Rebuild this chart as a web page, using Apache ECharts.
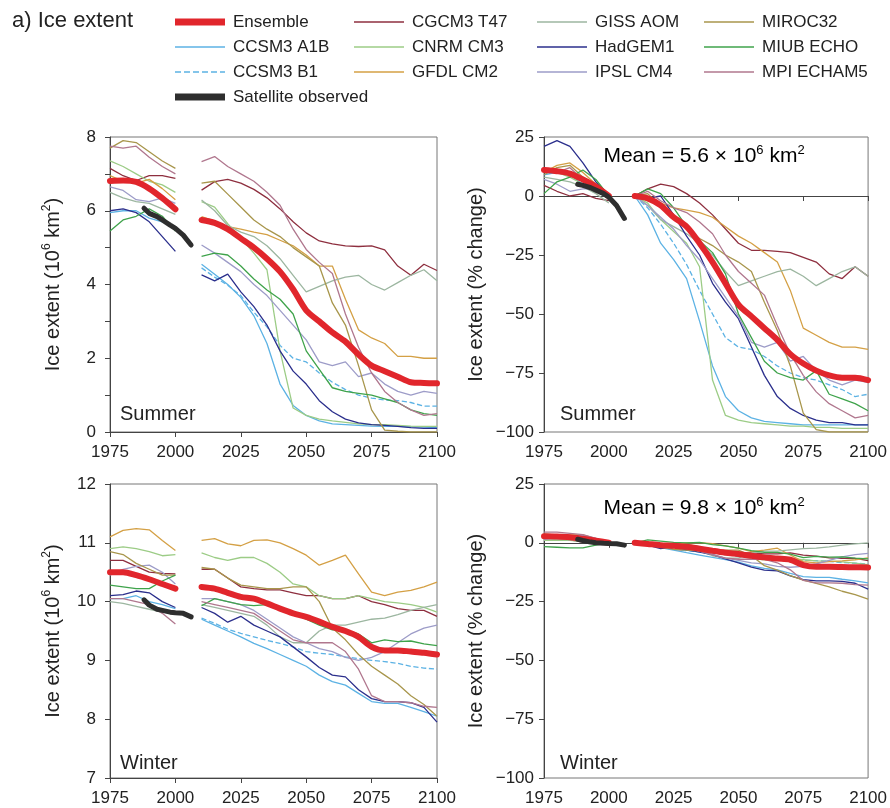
<!DOCTYPE html>
<html>
<head>
<meta charset="utf-8">
<script src="https://cdn.jsdelivr.net/npm/echarts@6/dist/echarts.min.js"></script>
<style>
  html, body { margin: 0; padding: 0; background: #fff; }
  #chart { width: 890px; height: 808px; }
</style>
</head>
<body>
<div id="chart"></div>
<script>
// x positions: 1975-2000 historical runs, gap, 2010-2100 scenario runs
const YEARS = [1975, 1980, 1985, 1990, 1995, 2000, 2005, 2010, 2015, 2020, 2025, 2030, 2035, 2040, 2045,
  2050, 2055, 2060, 2065, 2070, 2075, 2080, 2085, 2090, 2095, 2100];
const SAT_YEARS = [1988, 1990, 1993, 1995, 1998, 2000, 2003, 2006];
const _ = null;

// Summer, 10^6 km2
const sumKmEnsemble = [6.81, 6.82, 6.78, 6.6, 6.34, 6.04, _, 5.75, 5.67, 5.5, 5.25, 5.0, 4.7, 4.35, 3.87, 3.3, 3.0, 2.7, 2.45, 2.1, 1.8, 1.65, 1.5, 1.35, 1.33, 1.32];
const sumKmSat = [6.07, 5.93, 5.84, 5.75, 5.61, 5.52, 5.34, 5.07];
const sumKmCGCM3 = [7.15, 6.95, 6.82, 6.95, 6.95, 6.88, _, 6.56, 6.79, 6.85, 6.75, 6.58, 6.35, 6.05, 5.7, 5.4, 5.18, 5.1, 5.05, 5.03, 5.05, 4.94, 4.5, 4.25, 4.55, 4.38];
const sumKmA1B = [5.95, 6.0, 6.0, 5.8, 5.7, 5.55, _, 4.55, 4.28, 4.0, 3.65, 3.15, 2.4, 1.3, 0.72, 0.45, 0.3, 0.22, 0.2, 0.18, 0.16, 0.15, 0.15, 0.14, 0.13, 0.12];
const sumKmB1 = [_, _, _, _, _, _, _, 4.45, 4.2, 3.98, 3.7, 3.25, 2.85, 2.35, 2.0, 1.9, 1.6, 1.35, 1.15, 1.0, 0.92, 0.87, 0.85, 0.8, 0.7, 0.7];
const sumKmCNRM = [7.35, 7.2, 7.0, 6.8, 6.7, 6.5, _, 6.25, 6.1, 5.65, 5.25, 4.85, 4.4, 2.2, 0.65, 0.45, 0.35, 0.3, 0.26, 0.22, 0.2, 0.2, 0.18, 0.16, 0.15, 0.15];
const sumKmGFDL = [6.95, 6.8, 6.75, 6.85, 6.6, 6.3, _, 5.84, 5.72, 5.57, 5.5, 5.42, 5.35, 5.2, 5.05, 4.8, 4.5, 4.5, 3.6, 2.77, 2.55, 2.4, 2.05, 2.05, 2.0, 2.0];
const sumKmGISS = [6.5, 6.35, 6.25, 6.2, 6.05, 5.9, _, 6.29, 6.0, 5.6, 5.42, 5.3, 5.05, 4.7, 4.25, 3.8, 3.95, 4.1, 4.2, 4.25, 4.0, 3.85, 4.05, 4.25, 4.4, 4.1];
const sumKmHadGEM1 = [6.0, 6.05, 5.95, 5.7, 5.3, 4.9, _, 4.26, 4.1, 4.28, 3.8, 3.4, 2.9, 2.2, 1.65, 1.3, 0.85, 0.55, 0.35, 0.25, 0.2, 0.18, 0.15, 0.12, 0.1, 0.1];
const sumKmIPSL = [6.65, 6.55, 6.3, 6.25, 6.35, 6.2, _, 5.07, 4.85, 4.6, 4.35, 4.0, 3.7, 3.3, 2.9, 2.5, 1.9, 1.8, 1.9, 1.5, 1.6, 1.3, 1.1, 1.0, 1.1, 1.05];
const sumKmMIROC = [7.7, 7.9, 7.85, 7.6, 7.35, 7.15, _, 6.75, 6.8, 6.45, 6.1, 5.75, 5.5, 5.3, 5.0, 4.75, 4.5, 3.5, 2.9, 1.8, 0.6, 0.05, 0.02, 0.0, 0.0, 0.0];
const sumKmMIUB = [5.45, 5.75, 5.85, 6.05, 5.85, 5.45, _, 4.76, 4.85, 4.8, 4.5, 4.15, 3.85, 3.6, 3.2, 2.2, 1.7, 1.2, 1.1, 1.05, 1.0, 0.9, 0.8, 0.6, 0.5, 0.45];
const sumKmMPI = [7.75, 7.7, 7.75, 7.45, 7.2, 7.0, _, 7.33, 7.47, 7.2, 7.0, 6.8, 6.5, 6.15, 5.5, 4.95, 4.6, 4.3, 3.2, 2.3, 1.6, 1.1, 0.8, 0.6, 0.45, 0.5];

// Summer, % change
const sumPctEnsemble = [11, 10.5, 9.5, 7, 4, 0, _, 0, -1, -4, -9, -13, -20, -28, -37, -46, -51, -56, -61, -67, -71, -74, -76, -77, -77, -78];
const sumPctSat = [5, 4.5, 3.5, 2.5, 1, -0.5, -4, -9.5];
const sumPctCGCM3 = [4.5, 2, 0, 1, -1, -2, _, 0, 3, 5, 4, 1, -3, -8, -14, -20, -23, -23, -23.5, -24, -26, -28, -33, -35, -30, -34];
const sumPctA1B = [9, 10, 9, 5, 2, -1, _, 0, -8, -20, -27, -35, -53, -72, -85, -91, -94, -95.5, -96, -96.5, -97, -97, -97, -97, -97, -97];
const sumPctB1 = [_, _, _, _, _, _, _, 0, -5, -12, -20, -29, -40, -50, -60, -64, -65, -68, -72, -75, -77, -78, -80, -82, -85, -84];
const sumPctCNRM = [12, 10, 8, 5, 3, 0, _, 0, -3, -10, -15, -20, -30, -78, -93, -95, -96, -96.5, -97, -97.5, -97.5, -98, -98, -98.5, -98.5, -98.5];
const sumPctGFDL = [10, 13, 14, 10, 5, 0, _, 0, -2, -3, -5, -6, -7, -9, -13, -17, -20, -24, -28, -40, -56, -59, -62, -64, -64, -65];
const sumPctGISS = [8, 7, 6, 4, 1, -3, _, 0, -4, -10, -13, -16, -20, -25, -32, -38, -36, -34, -32, -31, -34, -38, -35, -32, -30, -34];
const sumPctHadGEM1 = [21, 23.5, 21, 14, 6, 0, _, 0, -1, 0, -8, -17, -25, -37, -45, -52, -64, -76, -85, -90, -93, -95, -96, -96, -97, -97];
const sumPctIPSL = [7, 5, 2, 3, 3, 0, _, 0, -4, -9, -14, -21, -27, -35, -43, -51, -62, -64, -62, -70, -68, -74, -78, -80, -78, -79];
const sumPctMIROC = [9, 12, 13, 8, 4, 0, _, 0, 1, -4, -9, -14, -18, -21, -25, -28, -32, -45, -57, -72, -92, -99, -100, -100, -100, -100];
const sumPctMIUB = [1, 6, 8, 11, 7, 0, _, 0, 3, 1, -5, -13, -19, -24, -33, -50, -60, -70, -75, -77, -78, -74, -84, -86, -88, -91];
const sumPctMPI = [11, 10, 12, 7, 3, -1, _, 0, 2, -2, -5, -7, -11, -16, -25, -32, -37, -42, -55, -67, -76, -83, -88, -91, -94, -93];

// Winter, 10^6 km2
const winKmEnsemble = [10.5, 10.5, 10.45, 10.38, 10.3, 10.22, _, 10.25, 10.22, 10.15, 10.08, 10.05, 9.97, 9.88, 9.8, 9.74, 9.66, 9.57, 9.5, 9.4, 9.23, 9.17, 9.17, 9.15, 9.13, 9.1];
const winKmSat = [10.03, 9.94, 9.87, 9.85, 9.82, 9.81, 9.8, 9.74];
const winKmCGCM3 = [10.7, 10.7, 10.6, 10.5, 10.48, 10.47, _, 10.55, 10.55, 10.4, 10.25, 10.22, 10.2, 10.2, 10.15, 10.1, 10.1, 10.05, 10.05, 10.1, 10.0, 9.95, 9.88, 9.85, 9.85, 9.75];
const winKmA1B = [10.05, 10.05, 10.1, 10.0, 9.95, 9.88, _, 9.7, 9.6, 9.5, 9.4, 9.29, 9.2, 9.1, 9.0, 8.9, 8.75, 8.64, 8.58, 8.44, 8.3, 8.27, 8.27, 8.2, 8.13, 8.05];
const winKmB1 = [_, _, _, _, _, _, _, 9.72, 9.63, 9.53, 9.46, 9.4, 9.34, 9.29, 9.23, 9.15, 9.12, 9.1, 9.06, 9.03, 9.0, 8.98, 8.95, 8.9, 8.87, 8.85];
const winKmCNRM = [10.9, 10.93, 10.9, 10.85, 10.78, 10.8, _, 10.83, 10.75, 10.7, 10.75, 10.75, 10.65, 10.5, 10.3, 10.25, 10.1, 10.05, 10.05, 10.1, 10.05, 10.0, 9.98, 9.95, 9.9, 9.82];
const winKmGFDL = [11.1, 11.21, 11.24, 11.22, 11.04, 10.87, _, 11.04, 11.07, 10.98, 10.95, 11.04, 11.05, 11.0, 10.9, 10.79, 10.62, 10.7, 10.79, 10.47, 10.16, 10.1, 10.16, 10.19, 10.25, 10.33];
const winKmGISS = [10.0, 9.97, 9.92, 9.87, 9.82, 9.8, _, 9.95, 9.9, 9.85, 9.8, 9.75, 9.6, 9.4, 9.3, 9.3, 9.5, 9.6, 9.6, 9.65, 9.7, 9.72, 9.78, 9.85, 9.9, 9.95];
const winKmHadGEM1 = [10.1, 10.12, 10.18, 10.15, 10.0, 9.9, _, 9.9, 9.8, 9.65, 9.75, 9.6, 9.5, 9.4, 9.23, 9.06, 8.88, 8.75, 8.72, 8.5, 8.35, 8.3, 8.3, 8.28, 8.2, 7.95];
const winKmIPSL = [10.45, 10.55, 10.6, 10.62, 10.5, 10.3, _, 10.05, 10.05, 10.0, 9.95, 9.85, 9.7, 9.55, 9.4, 9.3, 9.2, 9.15, 9.05, 9.0, 9.05, 9.15, 9.3, 9.45, 9.55, 9.6];
const winKmMIROC = [10.85, 10.8, 10.65, 10.55, 10.45, 10.45, _, 10.58, 10.55, 10.4, 10.28, 10.25, 10.22, 10.22, 10.25, 10.25, 10.0, 9.55, 9.35, 9.1, 8.9, 8.75, 8.6, 8.4, 8.25, 8.05];
const winKmMIUB = [10.28, 10.25, 10.22, 10.22, 10.35, 10.45, _, 9.93, 10.05, 10.0, 9.95, 9.93, 9.95, 9.85, 9.8, 9.7, 9.6, 9.52, 9.52, 9.45, 9.3, 9.35, 9.32, 9.33, 9.28, 9.25];
const winKmMPI = [10.05, 10.05, 10.0, 9.95, 9.8, 9.62, _, 10.0, 9.95, 9.9, 9.85, 9.8, 9.65, 9.5, 9.35, 9.3, 9.3, 9.3, 9.15, 8.85, 8.4, 8.3, 8.3, 8.28, 8.22, 8.2];

// Winter, % change
const winPctEnsemble = [2.8, 2.7, 2.4, 1.7, 0.9, 0, _, 0, -0.5, -1, -1.3, -1.7, -2.5, -3.4, -4.2, -4.8, -5.5, -6.2, -6.7, -7.2, -9.5, -10.2, -10.2, -10.3, -10.4, -10.5];
const winPctSat = [1.5, 1, 0.3, 0, -0.2, -0.3, -0.4, -1];
const winPctCGCM3 = [2.2, 2.2, 1.2, 0.3, 0.1, 0, _, 0, 0, -1.4, -2.8, -3.1, -3.3, -3.3, -3.8, -4.3, -4.3, -4.7, -4.7, -4.3, -5.2, -5.7, -6.4, -6.6, -6.6, -7.6];
const winPctA1B = [1.7, 1.7, 2.2, 1.2, 0.7, 0, _, 0, -1, -2, -3.1, -4.2, -5.2, -6.2, -7.2, -8.2, -9.8, -10.9, -11.5, -13, -14.4, -14.7, -14.7, -15.5, -16.2, -17];
const winPctB1 = [_, _, _, _, _, _, _, 0, -0.9, -2, -2.7, -3.3, -3.9, -4.4, -5, -5.9, -6.2, -6.4, -6.8, -7.1, -7.4, -7.6, -7.9, -8.4, -8.7, -9];
const winPctCNRM = [1, 1.2, 1, 0.5, -0.2, 0, _, 0, -0.7, -1.2, -0.7, -0.7, -1.7, -3, -4.9, -5.4, -6.7, -7.2, -7.2, -6.7, -7.2, -7.7, -7.8, -8.1, -8.6, -9.3];
const winPctGFDL = [2.3, 3.2, 3.4, 3.4, 1.8, 0, _, 0, 0.3, -0.5, -0.8, 0, 0.1, -0.4, -1.3, -2.3, -3.8, -3.1, -2.3, -5.2, -8, -8.5, -8, -7.7, -7.2, -6.4];
const winPctGISS = [2, 1.7, 1.2, 0.7, 0.2, 0, _, 0, -0.5, -1, -1.5, -2, -3.5, -5.5, -6.5, -6.5, -4.5, -3.5, -3.5, -3, -2.5, -2.3, -1.7, -1, -0.5, 0];
const winPctHadGEM1 = [2, 2.2, 2.8, 2.5, 1, 0, _, 0, -1, -2.5, -1.5, -3, -4, -5, -6.8, -8.5, -10.3, -11.6, -11.9, -14.1, -15.7, -16.2, -16.2, -16.4, -17.2, -19.7];
const winPctIPSL = [1.4, 2.4, 2.9, 3.1, 1.9, 0, _, 0, 0, -0.5, -1, -2, -3.5, -5, -6.5, -7.5, -8.5, -9, -10, -10.4, -10, -9, -7.5, -6, -5, -4.5];
const winPctMIROC = [3.8, 3.3, 1.9, 1, 0, 0, _, 0, -0.3, -1.7, -2.8, -3.1, -3.4, -3.4, -3.1, -3.1, -5.5, -9.7, -11.6, -14, -15.9, -17.3, -18.7, -20.6, -22, -23.9];
const winPctMIUB = [-1.6, -1.9, -2.2, -2.2, -1, 0, _, 0, 1.2, 0.7, 0.2, 0, 0.2, -0.8, -1.3, -2.3, -3.3, -4.1, -4.1, -4.8, -6.3, -5.8, -6.1, -6, -6.5, -6.8];
const winPctMPI = [4.5, 4.5, 4, 3.5, 1.9, 0, _, 0, -0.5, -1, -1.5, -2, -3.5, -5, -6.5, -7, -7, -7, -8.5, -11.5, -16, -17, -17, -17.2, -17.8, -18];

const FONT = '"Liberation Sans", Arial, Helvetica, sans-serif';
const INK = '#222';

// name, colour, line type (same order as the model arrays in PANELS)
const MODELS = [
  ['CGCM3 T47', '#8e2f3f', 'solid'],
  ['CCSM3 A1B', '#5cb2e4', 'solid'],
  ['CCSM3 B1', '#5cb2e4', 'dashed'],
  ['CNRM CM3', '#9ccc86', 'solid'],
  ['GFDL CM2', '#d4a045', 'solid'],
  ['GISS AOM', '#9cb6a0', 'solid'],
  ['HadGEM1', '#2b2f8c', 'solid'],
  ['IPSL CM4', '#9d9cc8', 'solid'],
  ['MIROC32', '#a8964c', 'solid'],
  ['MIUB ECHO', '#3fa34b', 'solid'],
  ['MPI ECHAM5', '#b0778e', 'solid']
];
const ENS_COLOR = '#e1262c';
const SAT_COLOR = '#2e2e2e';

const PANELS = [
  { ens: sumKmEnsemble, sat: sumKmSat, m: [sumKmCGCM3, sumKmA1B, sumKmB1, sumKmCNRM, sumKmGFDL, sumKmGISS, sumKmHadGEM1, sumKmIPSL, sumKmMIROC, sumKmMIUB, sumKmMPI] },
  { ens: sumPctEnsemble, sat: sumPctSat, m: [sumPctCGCM3, sumPctA1B, sumPctB1, sumPctCNRM, sumPctGFDL, sumPctGISS, sumPctHadGEM1, sumPctIPSL, sumPctMIROC, sumPctMIUB, sumPctMPI] },
  { ens: winKmEnsemble, sat: winKmSat, m: [winKmCGCM3, winKmA1B, winKmB1, winKmCNRM, winKmGFDL, winKmGISS, winKmHadGEM1, winKmIPSL, winKmMIROC, winKmMIUB, winKmMPI] },
  { ens: winPctEnsemble, sat: winPctSat, m: [winPctCGCM3, winPctA1B, winPctB1, winPctCNRM, winPctGFDL, winPctGISS, winPctHadGEM1, winPctIPSL, winPctMIROC, winPctMIUB, winPctMPI] }
];

const pairs = (xs, ys) => xs.map((x, i) => [x, ys[i] == null ? '-' : ys[i]]);

const supRich = (size) => ({
  a: { fontSize: size, fontFamily: FONT, color: INK, lineHeight: size + 4 },
  s: { fontSize: Math.round(size * 0.6), fontFamily: FONT, color: INK, lineHeight: Math.round(size * 0.6), verticalAlign: 'top' }
});

const grids = [
  { left: 110, top: 137, width: 327, height: 295 },
  { left: 544, top: 137, width: 328, height: 295 },
  { left: 110, top: 484, width: 327, height: 294 },
  { left: 544, top: 484, width: 328, height: 294 }
].map(g => Object.assign(g, { show: true, borderColor: '#777', borderWidth: 1, containLabel: false }));

const axisCommon = {
  axisLine: { show: true, lineStyle: { color: '#444', width: 1 } },
  axisTick: { show: true, length: 5, lineStyle: { color: '#444' } },
  splitLine: { show: false }
};
const minus = v => (v < 0 ? '\u2212' + Math.abs(v) : String(v));

const xAxes = [0, 1, 2, 3].map(i => Object.assign({
  type: 'value', gridIndex: i, min: 1975, max: 2100, interval: 25,
  axisLabel: { fontSize: 17, fontFamily: FONT, color: INK, margin: 12, formatter: v => String(v) }
}, axisCommon));

const kmName = '{a|Ice extent (10}{s|6}{a| km}{s|2}{a|)}';
const yAxes = [
  { min: 0, max: 8, interval: 1, fmt: v => (v % 2 === 0 ? String(v) : ''), name: kmName, gap: 45, margin: 14 },
  { min: -100, max: 25, interval: 25, fmt: minus, name: '{a|Ice extent (% change)}', gap: 56, margin: 10 },
  { min: 7, max: 12, interval: 1, fmt: v => String(v), name: kmName, gap: 45, margin: 14 },
  { min: -100, max: 25, interval: 25, fmt: minus, name: '{a|Ice extent (% change)}', gap: 56, margin: 10 }
].map((a, i) => Object.assign({
  type: 'value', gridIndex: i, min: a.min, max: a.max, interval: a.interval,
  name: a.name, nameLocation: 'middle', nameGap: a.gap, nameMoveOverlap: false,
  nameTextStyle: { rich: supRich(20) },
  axisLabel: { fontSize: 17, fontFamily: FONT, color: INK, margin: a.margin, formatter: a.fmt }
}, axisCommon));

const series = [];
PANELS.forEach((p, gi) => {
  MODELS.forEach(([name, color, type], mi) => {
    series.push({
      name, type: 'line', xAxisIndex: gi, yAxisIndex: gi,
      data: pairs(YEARS, p.m[mi]), showSymbol: false, symbol: 'none',
      lineStyle: { color, width: 1.3, type }, itemStyle: { color },
      connectNulls: false, z: 2, silent: true
    });
  });
  series.push({
    name: 'Ensemble', type: 'line', xAxisIndex: gi, yAxisIndex: gi,
    data: pairs(YEARS, p.ens), showSymbol: false, symbol: 'none', smooth: 0.3,
    lineStyle: { color: ENS_COLOR, width: 6, cap: 'round' }, itemStyle: { color: ENS_COLOR },
    connectNulls: false, z: 3, silent: true
  });
  series.push({
    name: 'Satellite observed', type: 'line', xAxisIndex: gi, yAxisIndex: gi,
    data: pairs(SAT_YEARS, p.sat), showSymbol: false, symbol: 'none',
    lineStyle: { color: SAT_COLOR, width: 5, cap: 'round' }, itemStyle: { color: SAT_COLOR },
    z: 4, silent: true
  });
});

// legend icons
const THIN = 'path://M0,0H50V1.6H0Z';
const THICK = 'path://M0,0H50V7H0Z';
const DASH = 'path://M0,0H6V1.6H0Z M9,0H15V1.6H9Z M18,0H24V1.6H18Z M27,0H33V1.6H27Z M36,0H42V1.6H36Z M45,0H50V1.6H45Z';
const colorOf = n => (MODELS.find(m => m[0] === n) || [n, '#000'])[1];
const item = (name, icon, color) => ({ name, icon, itemStyle: { color: color || colorOf(name), borderWidth: 0 } });

const legendCols = [
  { left: 175, data: [item('Ensemble', THICK, ENS_COLOR), item('CCSM3 A1B', THIN), item('CCSM3 B1', DASH), item('Satellite observed', THICK, SAT_COLOR)] },
  { left: 354, data: [item('CGCM3 T47', THIN), item('CNRM CM3', THIN), item('GFDL CM2', THIN)] },
  { left: 537, data: [item('GISS AOM', THIN), item('HadGEM1', THIN), item('IPSL CM4', THIN)] },
  { left: 704, data: [item('MIROC32', THIN), item('MIUB ECHO', THIN), item('MPI ECHAM5', THIN)] }
];
const legends = legendCols.map(c => ({
  orient: 'vertical', left: c.left, top: 12, itemWidth: 50, itemHeight: 14, itemGap: 5,
  selectedMode: false, data: c.data, padding: 0,
  textStyle: { fontSize: 17, fontFamily: FONT, color: INK, lineHeight: 20, padding: [0, 0, 0, 3] }
}));

const label = (text, x, y, size, align) => ({
  type: 'text', x, y, silent: true,
  style: { text, fontSize: size, fontFamily: FONT, fill: INK, align: align || 'left', verticalAlign: 'middle' }
});
const meanText = (text, y) => ({
  type: 'text', x: 704, y, silent: true,
  style: { text, rich: supRich(21), align: 'center', verticalAlign: 'middle' }
});

const chart = echarts.init(document.getElementById('chart'), null, { renderer: 'canvas' });
chart.setOption({
  animation: false,
  backgroundColor: '#fff',
  grid: grids,
  xAxis: xAxes,
  yAxis: yAxes,
  legend: legends,
  series,
  graphic: [
    label('a) Ice extent', 12, 21, 22),
    label('Summer', 120, 414, 20),
    label('Summer', 560, 414, 20),
    label('Winter', 120, 763, 20),
    label('Winter', 560, 763, 20),
    meanText('{a|Mean = 5.6 \u00d7 10}{s|6}{a| km}{s|2}', 156),
    meanText('{a|Mean = 9.8 \u00d7 10}{s|6}{a| km}{s|2}', 508)
  ]
});
</script>
</body>
</html>
